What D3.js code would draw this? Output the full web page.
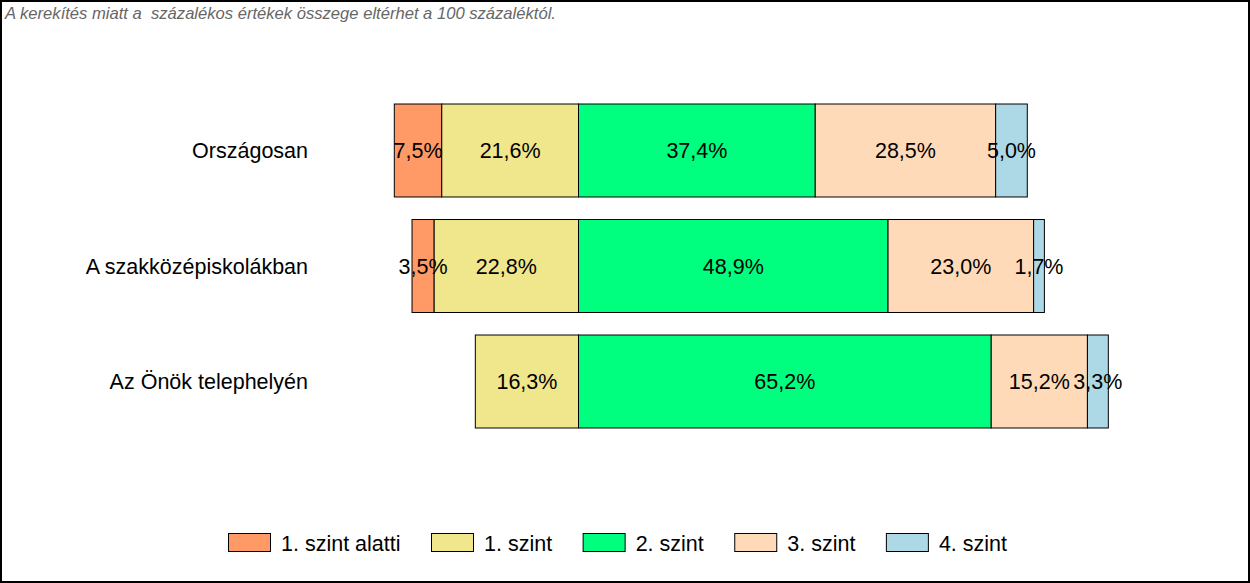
<!DOCTYPE html>
<html>
<head>
<meta charset="utf-8">
<script src="https://cdn.jsdelivr.net/npm/d3@7"></script>
<style>
  html, body { margin: 0; padding: 0; background: #fff; }
  svg { display: block; font-family: Arial, "Liberation Sans", sans-serif; }
</style>
</head>
<body>
<svg id="chart" width="1250" height="583"></svg>
<script>
const categories = ["Országosan", "A szakközépiskolákban", "Az Önök telephelyén"];
const seriesNames = ["1. szint alatti", "1. szint", "2. szint", "3. szint", "4. szint"];
const seriesColors = ["#FF9966", "#F0E68C", "#00FF7F", "#FFDAB9", "#ADD8E6"];
const belowAlatti = [7.5, 3.5, 0];
const szint1 = [21.6, 22.8, 16.3];
const szint2 = [37.4, 48.9, 65.2];
const szint3 = [28.5, 23.0, 15.2];
const szint4 = [5.0, 1.7, 3.3];
const note = "A kerekítés miatt a\u00A0 százalékos értékek összege eltérhet a 100 százaléktól.";

const seriesValues = [belowAlatti, szint1, szint2, szint3, szint4];

const svg = d3.select("#chart");
const W = 1250, H = 583;

svg.append("rect").attr("x", 1).attr("y", 1).attr("width", W - 2).attr("height", H - 2)
  .attr("fill", "#fff").attr("stroke", "#000").attr("stroke-width", 2);

svg.append("text").attr("x", 5).attr("y", 19)
  .attr("font-size", 16.6).attr("font-style", "italic").attr("fill", "#666")
  .text(note);

const pxPer = 6.33, zeroX = 578.5;
const x = d3.scaleLinear().domain([-30, 90]).range([zeroX - 30 * pxPer, zeroX + 90 * pxPer]);
const y = d3.scaleBand().domain(categories).range([92.75, 439.25]).paddingInner(0.195).paddingOuter(0.0975);

const fmt = v => d3.format(".1f")(v).replace(".", ",") + "%";

const segs = [];
categories.forEach((c, ci) => {
  let left = -(seriesValues[0][ci] + seriesValues[1][ci]);
  for (let s = 0; s < 5; s++) {
    const v = seriesValues[s][ci];
    segs.push({ cat: c, s, v, x0: left, x1: left + v });
    left += v;
  }
});

const g = svg.append("g");
g.selectAll("rect.seg").data(segs.filter(d => d.v > 0)).join("rect")
  .attr("class", "seg")
  .attr("x", d => x(d.x0)).attr("y", d => y(d.cat))
  .attr("width", d => x(d.x1) - x(d.x0)).attr("height", y.bandwidth())
  .attr("fill", d => seriesColors[d.s]).attr("stroke", "#000").attr("stroke-width", 1);

g.selectAll("text.lbl").data(segs.filter(d => d.v > 0)).join("text")
  .attr("class", "lbl")
  .attr("x", d => (x(d.x0) + x(d.x1)) / 2).attr("y", d => y(d.cat) + y.bandwidth() / 2 + 7.5)
  .attr("text-anchor", "middle").attr("font-size", 21.5).attr("fill", "#000")
  .text(d => fmt(d.v));

g.selectAll("text.cat").data(categories).join("text")
  .attr("class", "cat")
  .attr("x", 308).attr("y", d => y(d) + y.bandwidth() / 2 + 7.5)
  .attr("text-anchor", "end").attr("font-size", 21.5).attr("fill", "#000")
  .text(d => d);

const lg = svg.append("g");
let lx = 228;
seriesNames.forEach((name, i) => {
  lg.append("rect").attr("x", lx + 0.5).attr("y", 533.5).attr("width", 42).attr("height", 18)
    .attr("fill", seriesColors[i]).attr("stroke", "#000").attr("stroke-width", 1);
  const t = lg.append("text").attr("x", lx + 53).attr("y", 550.5)
    .attr("font-size", 21.5).attr("fill", "#000").text(name);
  const w = t.node().getComputedTextLength();
  lx = lx + 53 + w + 30.5;
});
</script>
</body>
</html>
